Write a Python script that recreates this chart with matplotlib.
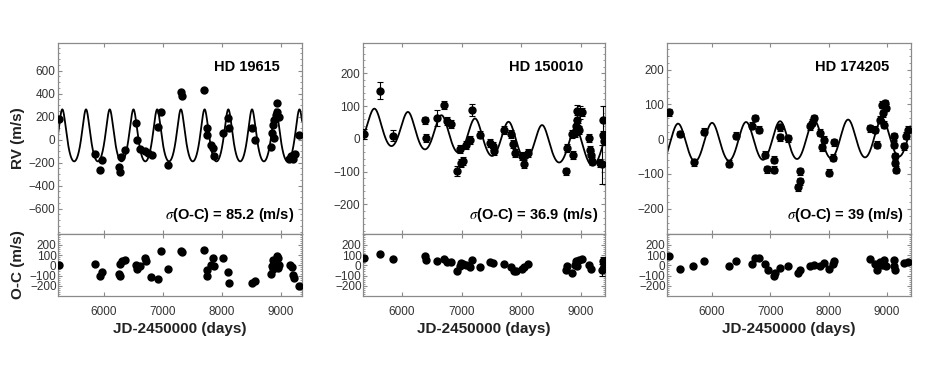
import numpy as np
import matplotlib
matplotlib.use('Agg')
import matplotlib.pyplot as plt
from matplotlib.ticker import MultipleLocator

plt.rcParams['font.family'] = ['Liberation Sans', 'DejaVu Sans']
plt.rcParams['mathtext.fontset'] = 'stix'

# ---------------- data ----------------
names = ['HD 19615', 'HD 150010', 'HD 174205']
sigmas = ['85.2', '36.9', '39']

# HD 19615
t1 = [5236, 5842, 5926, 5966, 6249, 6277, 6294, 6351, 6543, 6566, 6606, 6690, 6747,
      6821, 6917, 6962, 7092, 7302, 7324, 7703, 7749, 7754, 7805, 7850, 7856, 8009,
      8100, 8111, 8507, 8558, 8824, 8852, 8869, 8880, 8886, 8914, 8926, 8937, 8971,
      9141, 9169, 9192, 9209, 9237, 9311]
rv1 = [178, -129, -262, -181, -239, -282, -155, -88, 143, -1, -82, -97, -117,
       -132, 114, 244, -218, 415, 383, 429, 97, 42, -48, -72, -143, 56,
       187, 97, 97, -1, -68, 56, 129, 172, 13, 215, 322, 244, 201,
       -169, -146, -140, -169, -123, 39]
err1 = [12] * len(t1)
to1 = [5236, 5842, 5926, 5966, 6266, 6249, 6277, 6311, 6351, 6549, 6566, 6606, 6702,
       6719, 6804, 6917, 6962, 7092, 7302, 7330, 7703, 7749, 7754, 7805, 7850, 7867,
       8009, 8100, 8111, 8507, 8558, 8824, 8841, 8858, 8869, 8897, 8926, 8954, 8954,
       8971, 9152, 9180, 9209, 9226, 9311]
oc1 = [6, 16, -100, -68, 16, -84, -106, 39, 55, 0, -35, -3, 71,
       39, -113, -129, 145, -35, 145, 129, 155, -48, -106, 6, 71, -3,
       71, -68, -171, -171, -155, -84, -10, 55, -35, 39, 87, 71, -26,
       6, 6, -19, -90, -123, -203]
eoc1 = [14] * len(to1)

# HD 150010
t2 = [5360, 5624, 5848, 6382, 6410, 6579, 6708, 6747, 6815, 6916, 6972, 6989, 7028,
      7067, 7140, 7169, 7309, 7478, 7522, 7534, 7713, 7826, 7860, 7899, 8011, 8039,
      8112, 8753, 8770, 8854, 8871, 8893, 8916, 8927, 8938, 8955, 8966, 8983, 9022,
      9135, 9152, 9174, 9191, 9315, 9348, 9371, 9371, 9388]
rv2 = [15, 147, 10, 56, 3, 63, 104, 53, 46, -99, -31, -73, -68,
       -18, -3, 89, 13, -13, -21, -38, 26, 15, -16, -43, -53, -78,
       -43, -99, -29, 15, -48, 18, 38, 84, 58, 33, 28, 81, 81,
       3, -33, -48, -68, -73, -78, 56, 13, -8]
err2 = [15, 25, 18, 10, 12, 25, 12, 12, 12, 15, 12, 12, 12,
        12, 12, 18, 12, 12, 12, 12, 12, 12, 12, 12, 12, 12,
        12, 10, 12, 12, 12, 12, 20, 20, 15, 15, 12, 20, 12,
        12, 12, 12, 12, 12, 60, 45, 12, 12]
to2 = [5360, 5624, 5848, 6382, 6410, 6579, 6708, 6747, 6815, 6916, 6972, 6989, 7028,
       7067, 7140, 7169, 7309, 7478, 7522, 7713, 7826, 7871, 7916, 8011, 8039, 8112,
       8753, 8770, 8854, 8893, 8916, 8938, 8966, 9022, 9135, 9174, 9348, 9371, 9388]
oc2 = [71, 113, 61, 94, 55, 45, 61, 32, 32, -58, -10, 23, 13,
       6, -16, 55, -16, 29, 23, 13, -19, -52, -58, -35, -19, 13,
       -48, -10, -74, 6, 39, -10, 55, 61, 6, -32, -42, 39, -10]
eoc2 = [14, 16, 14, 14, 14, 14, 14, 14, 14, 14, 14, 14, 14,
        14, 14, 14, 14, 14, 14, 14, 14, 14, 14, 14, 14, 14,
        14, 14, 14, 14, 14, 14, 14, 14, 14, 14, 60, 45, 14]

# HD 174205
t3 = [5257, 5457, 5686, 5857, 6286, 6417, 6686, 6731, 6811, 6914, 6943, 7057, 7057,
      7160, 7171, 7297, 7474, 7514, 7514, 7686, 7743, 7714, 7846, 7886, 7914, 8086,
      8074, 8000, 8714, 8800, 8829, 8874, 8914, 8931, 8943, 8960, 8977, 9114, 9126,
      9143, 9143, 9154, 9286, 9331, 9360]
rv3 = [77, 15, -67, 21, -71, 10, 39, 61, 27, -45, -86, -88, -59,
       6, 35, 3, -138, -121, -93, 37, 61, 47, 18, -23, -1, -9,
       -54, -97, 32, 27, -16, 56, 99, 75, 42, 104, 90, -16, 8,
       -49, -68, -88, -20, 10, 27]
err3 = [10] * len(t3)
to3 = [5257, 5457, 5674, 5857, 6286, 6417, 6686, 6731, 6811, 6914, 6954, 7057, 7086,
       7160, 7297, 7474, 7514, 7686, 7743, 7846, 7914, 8000, 8074, 8097, 8714, 8800,
       8829, 8874, 8914, 8943, 8977, 9114, 9126, 9143, 9286, 9360]
oc3 = [94, -35, -10, 39, -10, 39, 13, 71, 71, 16, -48, -106, -74,
       -26, -10, -74, -42, -3, 6, -10, 23, -35, 13, 45, 61, 13,
       -42, 32, 6, 55, -10, 55, -3, -42, 23, 29]
eoc3 = [12] * len(to3)

# Keplerian fit parameters estimated from the drawn model curves
# (P, Tperi, e, K, gamma, trend per day, trend reference)
fit1 = (402.0, 5293.0, 0.20, 226.0, -8.0, 0.0, 5300.0)
fit2 = (562.0, 5539.0, 0.08, 54.5, 32.0, -0.0178, 5600.0)
fit3 = (583.0, 5417.0, 0.05, 55.0, -13.0, 0.004, 5400.0)

xlims = [(5220, 9356), (5347, 9402), (5228, 9411)]
ylims_rv = [(-820, 840), (-290, 292), (-273, 277)]
rv_major = [200, 100, 100]
rv_minor = [50, 20, 20]


def kepler_rv(t, P, Tp, e, K, gam, slope, tref):
    M = 2 * np.pi * (t - Tp) / P
    E = M.copy()
    for _ in range(30):
        E = E - (E - e * np.sin(E) - M) / (1 - e * np.cos(E))
    nu = 2 * np.arctan2(np.sqrt(1 + e) * np.sin(E / 2), np.sqrt(1 - e) * np.cos(E / 2))
    return K * (np.cos(nu) + e) + gam + slope * (t - tref)


panels = [
    (t1, rv1, err1, to1, oc1, eoc1, fit1),
    (t2, rv2, err2, to2, oc2, eoc2, fit2),
    (t3, rv3, err3, to3, oc3, eoc3, fit3),
]
lefts = [58, 363, 667]
widths = [244, 242, 244]

W, H = 926, 371
fig = plt.figure(figsize=(W / 100, H / 100), dpi=100)

spine_col = '#8a8a8a'
lab_col = '#333333'

for i, (t, rv, er, to, oc, eoc, fit) in enumerate(panels):
    l = lefts[i] / W
    w = widths[i] / W
    ax = fig.add_axes([l, 1 - 234 / H, w, (234 - 43) / H])
    ax2 = fig.add_axes([l, 1 - 296 / H, w, (296 - 234) / H])

    tt = np.linspace(xlims[i][0], xlims[i][1], 3000)
    ax.plot(tt, kepler_rv(tt, *fit), color='black', lw=1.3, zorder=2)
    ax.errorbar(t, rv, yerr=er, fmt='o', color='black', ms=5, elinewidth=0.8,
                capsize=2.5, capthick=0.8, zorder=3)
    ax2.errorbar(to, oc, yerr=eoc, fmt='o', color='black', ms=5, elinewidth=0.8,
                 capsize=2.5, capthick=0.8, zorder=3)

    ax.set_xlim(*xlims[i])
    ax2.set_xlim(*xlims[i])
    ax.set_ylim(*ylims_rv[i])
    ax2.set_ylim(-300, 307)

    ax.yaxis.set_major_locator(MultipleLocator(rv_major[i]))
    ax.yaxis.set_minor_locator(MultipleLocator(rv_minor[i]))
    ax2.yaxis.set_major_locator(MultipleLocator(100))
    ax2.yaxis.set_minor_locator(MultipleLocator(20))
    if i == 0:
        ax.set_yticks([600, 400, 200, 0, -200, -400, -600])
    else:
        ax.set_yticks([200, 100, 0, -100, -200])
    ax2.set_yticks([200, 100, 0, -100, -200])
    for a in (ax, ax2):
        a.xaxis.set_major_locator(MultipleLocator(1000))
        a.tick_params(which='both', direction='in', top=True, right=True,
                      colors=spine_col, labelcolor=lab_col, labelsize=8.5, pad=2)
        a.tick_params(which='major', length=3, width=0.8)
        a.tick_params(which='minor', length=1.5, width=0.6)
        for s in a.spines.values():
            s.set_color(spine_col)
            s.set_linewidth(0.9)
    ax.tick_params(axis='x', labelbottom=False)
    ax2.set_xticks([6000, 7000, 8000, 9000])
    ax2.tick_params(axis='x', pad=7)
    ax2.tick_params(axis='y', labelsize=8.5, pad=1)

    ax.text(0.91, 0.875, names[i], transform=ax.transAxes, ha='right', va='center',
            fontsize=10.5, fontweight='bold', color='black')
    ax.text(0.97, 0.1, r'$\sigma$(O-C) = ' + sigmas[i] + ' (m/s)', transform=ax.transAxes,
            ha='right', va='center', fontsize=10.5, fontweight='bold', color='black')
    ax2.set_xlabel('JD-2450000 (days)', fontsize=11, fontweight='bold', color='#222222',
                   labelpad=3)
    if i == 0:
        ax.set_ylabel('RV (m/s)', fontsize=11, fontweight='bold', color='#222222')
        ax2.set_ylabel('O-C (m/s)', fontsize=11, fontweight='bold', color='#222222')
        ax.yaxis.set_label_coords(-0.135, 0.5)
        ax2.yaxis.set_label_coords(-0.135, 0.5)

fig.savefig('out.png', dpi=100)
